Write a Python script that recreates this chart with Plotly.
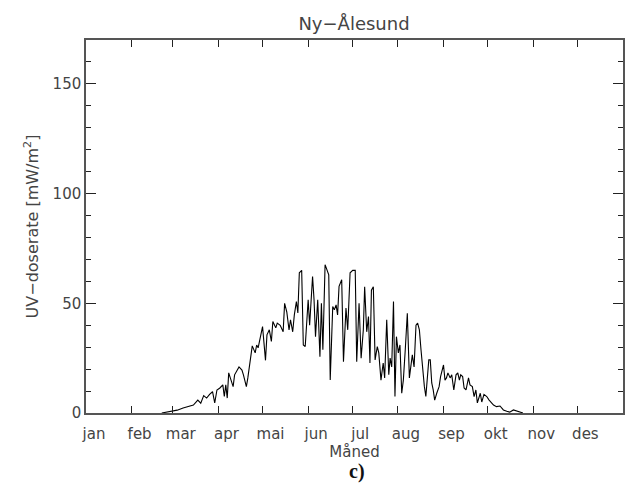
import plotly.graph_objects as go

# Day of year (1 Jan = 0) and daily UV dose rate
days = [51.5, 55, 59, 62, 66, 69, 73, 76, 78, 80, 82, 84, 86, 87.5, 89, 91, 93, 94, 95, 96,
        97, 100, 101, 104, 106, 107, 109, 110, 112, 113, 115, 116, 117, 119, 120, 122, 123,
        124.6, 126, 127, 129, 130, 132, 134, 135, 136.5, 138, 139, 140.5, 141.6, 143, 144,
        145, 146.6, 147.7, 149, 151, 152, 154, 155, 156, 157.5, 159, 160, 161, 162.5, 164,
        165, 166, 167.7, 168.8, 170, 171, 172, 173.8, 175, 176.7, 177.9, 179.5, 181.3, 183,
        184, 185.6, 187, 188.5, 189.4, 190.8, 192, 193, 194, 195.3, 196.5, 198, 199, 200.5,
        202, 203, 204.4, 205.8, 206.7, 207.8, 209, 210, 211, 212.3, 213.4, 214.6, 215.7, 217,
        218.4, 219.8, 221, 221.8, 223, 224.3, 225.4, 226.6, 227.7, 229, 230, 231, 232, 233,
        234, 235, 236, 237, 238.4, 240, 241, 243, 244, 245, 246, 247.5, 248.6, 250, 251.5,
        252.7, 253.8, 254.7, 256, 257, 258.3, 260, 261, 262.6, 263.8, 265, 266, 268, 269,
        270.5, 272.4, 274, 277, 279, 281.4, 283.7, 286, 288, 290.5, 292.8, 295, 297]
uv = [0, 0.4, 0.9, 1.3, 2.3, 2.8, 3.6, 5.9, 4.5, 7.9, 6.8, 8.5, 9.7, 4.6, 10.5, 11.4, 12.8, 7.5, 12.8, 6.8,
      18.3, 12, 17.4, 21, 19.6, 17.4, 12, 16, 27.4, 30.6, 27.4, 31, 29.7, 35.6, 39.4, 24, 35.6,
      37.9, 32.6, 41.7, 38.8, 41, 40, 37, 50, 46, 37.9, 42.5, 37, 44.7, 50.8, 45.6,
      63.9, 65, 31, 30.3, 51.6, 40, 62.2, 51.6, 34.8, 51.6, 25.7, 50, 28.8, 67.6, 64.5,
      63, 15, 48.5, 47, 49.3, 44.7, 57.7, 60.7, 23.4, 47.8, 37.9, 63.9, 65, 65,
      23.4, 50, 25, 37.9, 57.5, 37, 44, 22.8, 56, 57.5, 24.2, 30.3, 27.4, 15,
      22.8, 16, 42.5, 17.4, 25, 21, 50.8, 7.5, 34.8, 27.4, 31, 9, 15, 28.8,
      45.5, 16, 22.8, 26.5, 21, 40, 41, 37.9, 28.8, 18.3, 12, 7.5, 16.6, 24.2,
      24.2, 13.7, 10.5, 5.9, 9, 12, 16.6, 21.9, 15, 16, 18.3, 16, 17.4, 10.5, 17.4,
      18.3, 15, 17.4, 16.6, 11.4, 10.5, 16, 12.8, 12, 7.5, 10.5, 4.6, 9, 5,
      8.5, 7.5, 5.9, 3.6, 2.9, 3.2, 1.4, 0.8, 0.4, 1.4, 0.9, 0.4, 0]

month_starts = [0, 31, 59, 90, 120, 151, 181, 212, 243, 273, 304, 334]
month_labels = ["jan", "feb", "mar", "apr", "mai", "jun", "jul", "aug", "sep", "okt", "nov", "des"]
y_ticks = [0, 50, 100, 150]

FONT = "DejaVu Sans"
TXT = "#444444"

fig = go.Figure()
fig.add_trace(go.Scatter(x=days, y=uv, mode="lines",
                         line=dict(color="black", width=1.1), showlegend=False,
                         hoverinfo="skip"))

fig.update_layout(
    width=626, height=488,
    margin=dict(l=86, r=3, t=40, b=75, autoexpand=False),
    paper_bgcolor="white", plot_bgcolor="white",
    font=dict(family=FONT, size=15, color=TXT),
    title=dict(text="Ny−Ålesund", x=0.5655, xanchor="center", y=0.951, yanchor="middle",
               font=dict(family=FONT, size=18, color=TXT)),
    xaxis=dict(range=[0, 365], tickmode="array", tickvals=month_starts, ticktext=month_labels,
               ticks="inside", ticklen=7, tickcolor="#222", tickwidth=1,
               showline=True, linecolor="#555", linewidth=1.5, mirror="ticks",
               showgrid=False, zeroline=False, ticklabelshift=8, ticklabelstandoff=6,
               automargin=False,
               title=dict(text="Måned", standoff=2, font=dict(family=FONT, size=15, color=TXT))),
    yaxis=dict(range=[0, 170], tickmode="array", tickvals=y_ticks,
               ticks="inside", ticklen=10, tickcolor="#222", tickwidth=1,
               minor=dict(dtick=10, ticks="inside", ticklen=5, tickcolor="#222", tickwidth=1, showgrid=False),
               showline=True, linecolor="#555", linewidth=1.5, mirror="ticks",
               showgrid=False, zeroline=False, automargin=False,
               title=dict(text="UV−doserate [mW/m<sup>2</sup>]", standoff=10,
                          font=dict(family=FONT, size=16, color=TXT))),
    annotations=[dict(text="<b>c)</b>", xref="paper", yref="paper", x=0.505, y=-0.158,
                      xanchor="center", yanchor="middle", showarrow=False,
                      font=dict(family="Liberation Serif", size=20, color="#111"))],
)

fig.write_html("out.html", config={"displayModeBar": False},
               post_script="document.body.style.margin='0';document.body.style.overflow='hidden';")
